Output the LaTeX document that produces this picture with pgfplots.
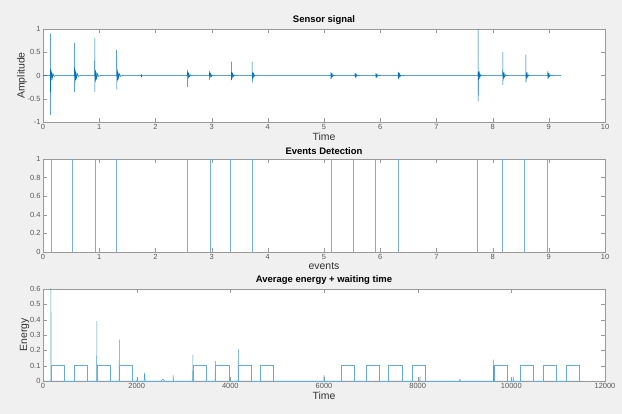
\documentclass[border=0pt]{standalone}
\usepackage{fontspec}
\setmainfont{Liberation Sans}
\usepackage{pgfplots}
\pgfplotsset{compat=1.18}
\definecolor{mblue}{rgb}{0,0.447,0.741}
\definecolor{figbg}{gray}{0.94}
\begin{document}
\begin{tikzpicture}
\path[use as bounding box, fill=figbg] (0,0) rectangle (622bp,414bp);
\pgfplotsset{mat/.style={scale only axis, width=562bp, anchor=south west,
  axis background/.style={fill=white}, axis line style={black!40}, major tick style={black!40},
  major tick length=4bp, tick label style={font=\fontsize{7.5}{8}\selectfont, text=black!65},
  /pgf/number format/assume math mode=true,
  label style={font=\fontsize{10.5}{11}\selectfont, text=black!80},
  title style={font=\bfseries\fontsize{9.5}{10}\selectfont, yshift=-5bp},
  xlabel style={yshift=3.5bp}, ylabel style={yshift=-6bp},
  xticklabel style={yshift=1bp}, yticklabel style={xshift=1bp}}}

% sensor signal
\begin{axis}[mat, at={(43bp,292bp)}, height=93bp, xmin=0, xmax=10, ymin=-1, ymax=1,
  xtick={0,1,...,10}, ytick={-1,-0.5,0,0.5,1}, title={Sensor signal}, xlabel={Time}, ylabel={Amplitude}]
\addplot[mblue, line width=0.5pt] coordinates {(0,0)
(0.130,0) (0.132,0.9) (0.134,-0.85) (0.137,0.13) (0.140,-0.13) (0.144,0.11) (0.148,-0.1) (0.156,0.08) (0.166,-0.06) (0.180,0.035) (0.200,-0.02) (0.230,0)
(0.560,0) (0.562,0.7) (0.564,-0.35) (0.567,0.13) (0.570,-0.13) (0.574,0.11) (0.578,-0.1) (0.586,0.08) (0.596,-0.06) (0.610,0.035) (0.630,-0.02) (0.660,0)
(0.920,0) (0.922,0.8) (0.924,-0.35) (0.927,0.13) (0.930,-0.13) (0.934,0.11) (0.938,-0.1) (0.946,0.08) (0.956,-0.06) (0.970,0.035) (0.990,-0.02) (1.020,0)
(1.310,0) (1.312,0.55) (1.314,-0.3) (1.317,0.13) (1.320,-0.13) (1.324,0.11) (1.328,-0.1) (1.336,0.08) (1.346,-0.06) (1.360,0.035) (1.380,-0.02) (1.410,0)
(1.745,0) (1.747,0.03) (1.749,-0.03) (1.752,0.02) (1.755,-0.02) (1.760,0)
(2.570,0) (2.572,0.12) (2.574,-0.25) (2.577,0.07) (2.580,-0.07) (2.584,0.056) (2.588,-0.049) (2.596,0.035) (2.606,-0.025) (2.620,0.014) (2.640,-0.007) (2.660,0)
(2.960,0) (2.962,0.1) (2.964,-0.1) (2.967,0.06) (2.970,-0.06) (2.974,0.048) (2.978,-0.042) (2.986,0.03) (2.996,-0.021) (3.010,0.012) (3.030,-0.006) (3.050,0)
(3.350,0) (3.352,0.3) (3.354,-0.1) (3.357,0.07) (3.360,-0.07) (3.364,0.056) (3.368,-0.049) (3.376,0.035) (3.386,-0.025) (3.400,0.014) (3.420,-0.007) (3.440,0)
(3.720,0) (3.722,0.3) (3.724,-0.15) (3.727,0.07) (3.730,-0.07) (3.734,0.056) (3.738,-0.049) (3.746,0.035) (3.756,-0.025) (3.770,0.014) (3.790,-0.007) (3.810,0)
(5.120,0) (5.122,0.08) (5.124,-0.08) (5.127,0.06) (5.130,-0.06) (5.134,0.048) (5.138,-0.042) (5.146,0.03) (5.156,-0.021) (5.170,0.012) (5.190,-0.006) (5.210,0)
(5.550,0) (5.552,0.05) (5.554,-0.04) (5.557,0.04) (5.560,-0.04) (5.564,0.032) (5.568,-0.028) (5.576,0.02) (5.586,-0.014) (5.600,0.008) (5.620,-0.004) (5.640,0)
(5.920,0) (5.922,0.05) (5.924,-0.04) (5.927,0.04) (5.930,-0.04) (5.934,0.032) (5.938,-0.028) (5.946,0.02) (5.956,-0.014) (5.970,0.008) (5.990,-0.004) (6.010,0)
(6.320,0) (6.322,0.08) (6.324,-0.08) (6.327,0.06) (6.330,-0.06) (6.334,0.048) (6.338,-0.042) (6.346,0.03) (6.356,-0.021) (6.370,0.012) (6.390,-0.006) (6.410,0)
(7.740,0) (7.742,1.0) (7.744,-0.55) (7.747,0.1) (7.750,-0.1) (7.754,0.08) (7.758,-0.07) (7.766,0.05) (7.776,-0.035) (7.790,0.02) (7.810,-0.01) (7.830,0)
(8.180,0) (8.182,0.5) (8.184,-0.2) (8.187,0.08) (8.190,-0.08) (8.194,0.064) (8.198,-0.056) (8.206,0.04) (8.216,-0.028) (8.230,0.016) (8.250,-0.008) (8.270,0)
(8.590,0) (8.592,0.45) (8.594,-0.15) (8.597,0.08) (8.600,-0.08) (8.604,0.064) (8.608,-0.056) (8.616,0.04) (8.626,-0.028) (8.640,0.016) (8.660,-0.008) (8.680,0)
(8.980,0) (8.982,0.1) (8.984,-0.08) (8.987,0.06) (8.990,-0.06) (8.994,0.048) (8.998,-0.042) (9.006,0.03) (9.016,-0.021) (9.030,0.012) (9.050,-0.006) (9.070,0)
(9.220,0)};
\node[font=\fontsize{5.5}{6}\selectfont, text=black!65, anchor=north east] at ([xshift=9bp,yshift=-6bp]rel axis cs:1,0) {$\times10^{4}$};
\end{axis}

% events detection
\begin{axis}[mat, at={(43bp,162bp)}, height=93bp, xmin=0, xmax=10, ymin=0, ymax=1,
  xtick={0,1,...,10}, ytick={0,0.2,...,1}, title={Events Detection}, xlabel={events}]
\addplot[mblue!55, line width=0.6pt] coordinates {(0,0)
(0.14,0) (0.14,1) (0.14,0)
(0.53,0) (0.53,1) (0.53,0)
(0.93,0) (0.93,1) (0.93,0)
(1.30,0) (1.30,1) (1.30,0)
(2.56,0) (2.56,1) (2.56,0)
(2.97,0) (2.97,1) (2.97,0)
(3.34,0) (3.34,1) (3.34,0)
(3.72,0) (3.72,1) (3.72,0)
(5.13,0) (5.13,1) (5.13,0)
(5.53,0) (5.53,1) (5.53,0)
(5.92,0) (5.92,1) (5.92,0)
(6.32,0) (6.32,1) (6.32,0)
(7.73,0) (7.73,1) (7.73,0)
(8.18,0) (8.18,1) (8.18,0)
(8.57,0) (8.57,1) (8.57,0)
(8.97,0) (8.97,1) (8.97,0)
(9.22,0)};
\node[font=\fontsize{5.5}{6}\selectfont, text=black!65, anchor=north east] at ([xshift=9bp,yshift=-6bp]rel axis cs:1,0) {$\times10^{4}$};
\end{axis}

% average energy + waiting time
\begin{axis}[mat, at={(43bp,33bp)}, height=92bp, xmin=0, xmax=12000, ymin=0, ymax=0.6,
  xtick={0,2000,...,12000}, ytick={0,0.1,...,0.6}, scaled x ticks=false,
  xticklabel style={/pgf/number format/1000 sep={}},
  yticklabel style={/pgf/number format/fixed},
  title={Average energy + waiting time}, xlabel={Time}, ylabel={Energy}]
\addplot[mblue!70, line width=0.45pt] coordinates {(0,0)
(165,0) (170,0.62) (175,0)
(1145,0) (1150,0.39) (1155,0)
(1625,0) (1630,0.27) (1635,0)
(2005,0) (2010,0.02) (2015,0)
(2160,0) (2165,0.055) (2170,0.01) (2175,0.045) (2180,0)
(2520,0) (2560,0.012) (2600,0)
(2775,0) (2780,0.04) (2785,0)
(3195,0) (3200,0.17) (3205,0)
(3675,0) (3680,0.13) (3685,0)
(3985,0) (3990,0.03) (3995,0)
(4165,0) (4170,0.21) (4175,0)
(5995,0) (6000,0.04) (6005,0)
(8045,0) (8050,0.03) (8055,0)
(8880,0) (8900,0.01) (8920,0)
(9615,0) (9620,0.14) (9625,0)
(10035,0) (10040,0.03) (10045,0)
(11500,0)};
\addplot[mblue!60, line width=0.45pt] coordinates {
(170,0) (170,0.1) (460,0.1) (460,0)
(670,0) (670,0.1) (950,0.1) (950,0)
(1150,0) (1150,0.1) (1440,0.1) (1440,0)
(1630,0) (1630,0.1) (1910,0.1) (1910,0)
(3200,0) (3200,0.1) (3490,0.1) (3490,0)
(3680,0) (3680,0.1) (3970,0.1) (3970,0)
(4170,0) (4170,0.1) (4450,0.1) (4450,0)
(4640,0) (4640,0.1) (4920,0.1) (4920,0)
(6360,0) (6360,0.1) (6650,0.1) (6650,0)
(6900,0) (6900,0.1) (7180,0.1) (7180,0)
(7370,0) (7370,0.1) (7660,0.1) (7660,0)
(7880,0) (7880,0.1) (8170,0.1) (8170,0)
(9630,0) (9630,0.1) (9910,0.1) (9910,0)
(10180,0) (10180,0.1) (10460,0.1) (10460,0)
(10680,0) (10680,0.1) (10960,0.1) (10960,0)
(11170,0) (11170,0.1) (11460,0.1) (11460,0)};
\end{axis}
\end{tikzpicture}
\end{document}
